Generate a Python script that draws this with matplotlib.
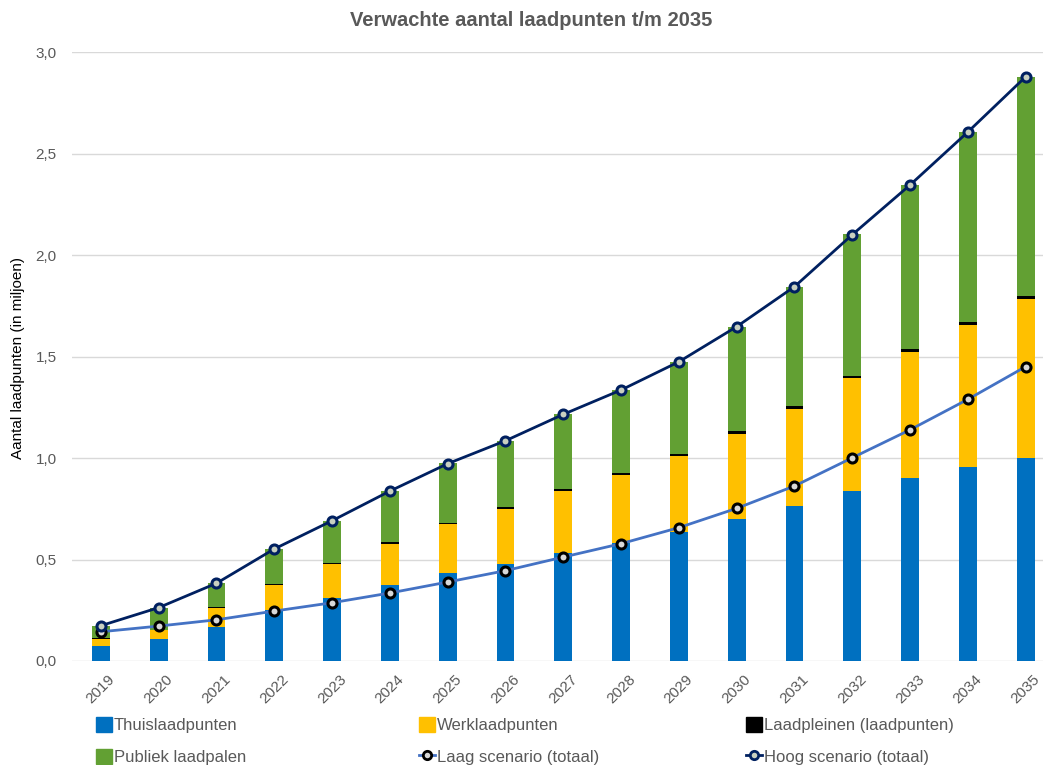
import numpy as np
import matplotlib
matplotlib.use('Agg')
import matplotlib.pyplot as plt
from matplotlib.lines import Line2D
from matplotlib.patches import Patch

jaren = [str(j) for j in range(2019, 2036)]
thuis = [0.074, 0.11, 0.168, 0.251, 0.309, 0.373, 0.432, 0.479, 0.533, 0.583, 0.634, 0.698, 0.765, 0.839, 0.901, 0.956, 0.999]
werk = [0.035, 0.043, 0.094, 0.125, 0.168, 0.205, 0.241, 0.272, 0.306, 0.335, 0.377, 0.422, 0.478, 0.553, 0.621, 0.699, 0.783]
pleinen = [0.002, 0.002, 0.003, 0.004, 0.005, 0.006, 0.007, 0.008, 0.009, 0.010, 0.011, 0.012, 0.012, 0.013, 0.014, 0.015, 0.016]
publiek = [0.063, 0.105, 0.119, 0.172, 0.21, 0.253, 0.293, 0.326, 0.368, 0.407, 0.453, 0.515, 0.589, 0.696, 0.809, 0.937, 1.08]
laag = [0.144, 0.172, 0.203, 0.246, 0.287, 0.335, 0.389, 0.445, 0.512, 0.578, 0.657, 0.752, 0.862, 1.001, 1.139, 1.289, 1.45]
hoog = [0.174, 0.263, 0.383, 0.552, 0.691, 0.837, 0.972, 1.085, 1.215, 1.335, 1.474, 1.647, 1.844, 2.10, 2.345, 2.606, 2.878]

c_thuis = '#0070C0'
c_werk = '#FFC000'
c_plein = '#000000'
c_publiek = '#62A033'
c_laag = '#4472C4'
c_hoog = '#002060'
grijs = '#595959'

plt.rcParams['font.family'] = ['Liberation Sans', 'DejaVu Sans']

fig = plt.figure(figsize=(10.43, 7.65), dpi=100)
ax = fig.add_axes([72 / 1043, 1 - 661 / 765, (1043 - 72) / 1043, (661 - 52) / 765])

x = np.arange(len(jaren))
b = 0.31
t = np.array(thuis)
w = np.array(werk)
p = np.array(pleinen)
ax.bar(x, thuis, b, color=c_thuis, zorder=2)
ax.bar(x, werk, b, bottom=t, color=c_werk, zorder=2)
ax.bar(x, pleinen, b, bottom=t + w, color=c_plein, zorder=2)
ax.bar(x, publiek, b, bottom=t + w + p, color=c_publiek, zorder=2)

ax.plot(x, laag, color=c_laag, lw=2, marker='o', ms=6.5, mec='black', mew=2.2, mfc='#d8d8d8', zorder=3)
ax.plot(x, hoog, color=c_hoog, lw=2, marker='o', ms=6.5, mec=c_hoog, mew=2.2, mfc='#c8d0c0', zorder=3)

ax.set_ylim(0, 3.0)
ax.set_xlim(-0.5, 16.3)
ax.set_yticks(np.arange(0, 3.01, 0.5))
ax.set_yticklabels([('%.1f' % v).replace('.', ',') for v in np.arange(0, 3.01, 0.5)], color=grijs, fontsize=11)
ax.set_xticks(x)
ax.set_xticklabels(jaren, rotation=45, color=grijs, fontsize=11)
ax.tick_params(length=0, pad=8)
ax.tick_params(axis='y', pad=11)
ax.grid(axis='y', color='#D9D9D9', lw=1, zorder=0)
ax.set_axisbelow(True)
for s in ax.spines.values():
    s.set_visible(False)

fig.text(18 / 1043, 1 - 358 / 765, 'Aantal laadpunten (in miljoen)', rotation=90, ha='center', va='center',
         fontsize=11, color='black')
fig.text(531 / 1043, 1 - 20 / 765, 'Verwachte aantal laadpunten t/m 2035', ha='center', va='center',
         fontsize=14.5, fontweight='bold', color=grijs)

handles = [
    Patch(color=c_thuis), Patch(color=c_werk), Patch(color=c_plein), Patch(color=c_publiek),
    Line2D([], [], color=c_laag, lw=2, marker='o', ms=6, mec='black', mew=2, mfc='#d8d8d8'),
    Line2D([], [], color=c_hoog, lw=2, marker='o', ms=6, mec=c_hoog, mew=2, mfc='#c8d0c0'),
]
labels = ['Thuislaadpunten', 'Werklaadpunten', 'Laadpleinen (laadpunten)',
          'Publiek laadpalen', 'Laag scenario (totaal)', 'Hoog scenario (totaal)']
kolommen = [(0, 3, 84), (1, 4, 407), (2, 5, 734)]
for i, j, xp in kolommen:
    leg = fig.legend([handles[i], handles[j]], [labels[i], labels[j]], ncol=1,
                     loc='upper left', bbox_to_anchor=(xp / 1043, 1 - 705 / 765),
                     frameon=False, prop={'size': 12},
                     handlelength=1.0, handleheight=1.0, handletextpad=0.1,
                     labelspacing=0.95, labelcolor=grijs, borderpad=0.2)

fig.savefig('out.png', dpi=100)
